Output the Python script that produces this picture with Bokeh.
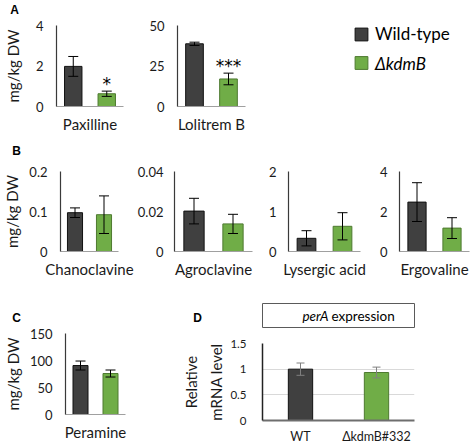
from bokeh.plotting import figure
from bokeh.models import (Range1d, FactorRange, FixedTicker, ColumnDataSource,
                          Whisker, TeeHead, Label, Legend, LegendItem)
from bokeh.layouts import row, column
from bokeh.embed import file_html
from bokeh.resources import INLINE

# ---------------- data ----------------
STRAINS = ["Wild-type", "ΔkdmB"]

PAX_MEAN = [1.98, 0.63]
PAX_ERR = [0.49, 0.13]
PAX_TICKS = [0, 2, 4]
PAX_TLAB = ["0", "2", "4"]

LOL_MEAN = [38.7, 17.0]
LOL_ERR = [1.0, 3.6]
LOL_TICKS = [0, 25, 50]
LOL_TLAB = ["0", "25", "50"]

CHA_MEAN = [0.097, 0.092]
CHA_ERR = [0.012, 0.047]
CHA_TICKS = [0, 0.1, 0.2]
CHA_TLAB = ["0", "0.1", "0.2"]

AGR_MEAN = [0.0202, 0.0138]
AGR_ERR = [0.0064, 0.0048]
AGR_TICKS = [0, 0.02, 0.04]
AGR_TLAB = ["0", "0.02", "0.04"]

LYS_MEAN = [0.33, 0.63]
LYS_ERR = [0.19, 0.34]
LYS_TICKS = [0, 1, 2]
LYS_TLAB = ["0", "1", "2"]

ERG_MEAN = [2.47, 1.17]
ERG_ERR = [0.97, 0.52]
ERG_TICKS = [0, 2, 4]
ERG_TLAB = ["0", "2", "4"]

PER_MEAN = [90.7, 75.9]
PER_ERR = [8.3, 6.5]
PER_TICKS = [0, 50, 100, 150]
PER_TLAB = ["0", "50", "100", "150"]

D_CATS = ["WT", "ΔkdmB#332"]
D_MEAN = [1.0, 0.935]
D_ERR = [0.12, 0.105]
D_TICKS = [0, 0.5, 1, 1.5]
D_TLAB = ["0", "0.5", "1", "1.5"]

# ---------------- style ----------------
FILL = ["#404040", "#70AD47"]
EDGE = ["#111111", "#4E7A30"]
FONT = "Lato"
TXT = "#1a1a1a"


def add_letter(p, letter, x, y):
    # label placed in the "above" side panel (screen px relative to the frame's top-left)
    p.add_layout(Label(x=x, y=y, x_units="screen", y_units="screen", text=letter,
                       text_font="Liberation Sans", text_font_style="bold",
                       text_font_size="12px", text_align="center", text_baseline="middle",
                       text_color="black"), "above")


def style_axes(p, tick_size="13px"):
    for ax in (p.xaxis + p.yaxis):
        ax.major_tick_out = 0
        ax.major_tick_in = 0
        ax.minor_tick_out = 0
        ax.minor_tick_in = 0
        ax.major_label_text_font = FONT
        ax.major_label_text_font_size = tick_size
        ax.major_label_text_color = TXT
        ax.axis_label_text_font = FONT
        ax.axis_label_text_font_size = "15px"
        ax.axis_label_text_font_style = "normal"
        ax.axis_label_text_color = TXT


def panel(name, means, errs, ticks, tlab, width, height, left, right, top, bottom,
          ylabel=None, ylab_standoff=5, tick_standoff=13, bar_w=0.52, sig=None):
    p = figure(width=width, height=height, x_range=Range1d(-0.5, 1.5),
               y_range=Range1d(ticks[0], ticks[-1]), output_backend="svg",
               toolbar_location=None, min_border_left=left, min_border_right=right,
               min_border_top=top, min_border_bottom=bottom)
    p.outline_line_color = None
    p.grid.visible = False
    xs = list(range(len(means)))
    src = ColumnDataSource(dict(x=xs, top=means,
                                lo=[m - e for m, e in zip(means, errs)],
                                hi=[m + e for m, e in zip(means, errs)],
                                fill=FILL, edge=EDGE))
    p.vbar(x="x", top="top", width=bar_w, fill_color="fill", line_color="edge",
           line_width=1, source=src)
    p.add_layout(Whisker(base="x", upper="hi", lower="lo", source=src, line_color="black",
                         line_width=1, level="overlay",
                         upper_head=TeeHead(size=10, line_color="black", line_width=1),
                         lower_head=TeeHead(size=10, line_color="black", line_width=1)))
    style_axes(p)
    p.xaxis.ticker = FixedTicker(ticks=[])
    p.xaxis.major_label_standoff = 0
    p.xaxis.axis_label = name
    p.xaxis.axis_label_standoff = 8
    p.xaxis.axis_line_color = "#A0A0A0"
    p.xaxis.axis_line_width = 1.2
    p.yaxis.ticker = FixedTicker(ticks=ticks)
    p.yaxis.major_label_overrides = dict(zip(ticks, tlab))
    p.yaxis.major_label_standoff = tick_standoff
    p.yaxis.axis_line_color = "#3a3a3a"
    p.yaxis.axis_line_width = 1.2
    if ylabel:
        p.yaxis.axis_label = ylabel
        p.yaxis.axis_label_standoff = ylab_standoff
    if sig:
        idx, txt = sig
        p.add_layout(Label(x=idx, y=means[idx] + errs[idx], text=txt,
                           text_font="DejaVu Sans", text_font_size="17px",
                           text_align="center", text_baseline="alphabetic",
                           text_color="black", y_offset=7))
    return p


# ---------------- row 1 (bar plots share top 25 / bottom 34) ----------------
p_pax = panel("Paxilline", PAX_MEAN, PAX_ERR, PAX_TICKS, PAX_TLAB, 136, 140, 52, 13, 25, 34,
              ylabel="mg/kg DW", ylab_standoff=11, sig=(1, "*"))
add_letter(p_pax, "A", -42, 16)
p_lol = panel("Lolitrem B", LOL_MEAN, LOL_ERR, LOL_TICKS, LOL_TLAB, 172, 140, 41, 63, 25, 34,
              sig=(1, "***"))

leg = figure(width=166, height=140, x_range=Range1d(0, 1), y_range=Range1d(0, 1),
             x_axis_location=None, y_axis_location=None, output_backend="svg",
             toolbar_location=None, min_border_left=45, min_border_right=10,
             min_border_top=23, min_border_bottom=38)
leg.outline_line_color = None
leg.grid.visible = False
xs_leg = list(range(len(STRAINS)))
r_leg = leg.vbar(x=xs_leg, top=[1] * len(STRAINS), width=0.5, fill_color=FILL,
                 line_color=EDGE, visible=False)
for i, (style, loc) in enumerate((("normal", "top_left"), ("italic", "center_left"))):
    lg = Legend(items=[LegendItem(label=STRAINS[i], renderers=[r_leg], index=i)],
                location=loc, glyph_width=16, glyph_height=16, label_standoff=6,
                padding=0, margin=0, spacing=0, label_height=16, border_line_color=None,
                background_fill_alpha=0, label_text_font=FONT,
                label_text_font_size="17px", label_text_font_style=style,
                label_text_color="black")
    leg.add_layout(lg)

# ---------------- row 2 (plots share top 31 / bottom 36) ----------------
p_cha = panel("Chanoclavine", CHA_MEAN, CHA_ERR, CHA_TICKS, CHA_TLAB, 134, 147, 56, 16, 31, 36,
              ylabel="mg/kg DW", ylab_standoff=5)
add_letter(p_cha, "B", -44, 21)
p_agr = panel("Agroclavine", AGR_MEAN, AGR_ERR, AGR_TICKS, AGR_TLAB, 128, 147, 37, 10, 31, 36,
              tick_standoff=11)
p_lys = panel("Lysergic acid", LYS_MEAN, LYS_ERR, LYS_TICKS, LYS_TLAB, 110, 147, 26, 12, 31, 36,
              tick_standoff=12)
p_erg = panel("Ergovaline", ERG_MEAN, ERG_ERR, ERG_TICKS, ERG_TLAB, 102, 147, 27, 5, 31, 36,
              tick_standoff=12)

# ---------------- row 3 ----------------
p_per = panel("Peramine", PER_MEAN, PER_ERR, PER_TICKS, PER_TLAB, 179, 159, 61, 54, 46, 32,
              ylabel="mg/kg DW", ylab_standoff=5, bar_w=0.5)
add_letter(p_per, "C", -49, 16)

box = figure(width=295, height=42, x_range=Range1d(0, 1), y_range=Range1d(0, 1),
             x_axis_location=None, y_axis_location=None, output_backend="svg",
             toolbar_location=None, min_border_left=83, min_border_right=60,
             min_border_top=16, min_border_bottom=2)
box.grid.visible = False
box.outline_line_color = "#5a5a5a"
box.outline_line_width = 1
box.add_layout(Label(x=66, y=12, x_units="screen", y_units="screen", text="perA",
                     text_font=FONT, text_font_style="italic", text_font_size="13.5px",
                     text_align="right", text_baseline="middle", text_color="black"))
box.add_layout(Label(x=69, y=12, x_units="screen", y_units="screen", text="expression",
                     text_font=FONT, text_font_size="13.5px", text_align="left",
                     text_baseline="middle", text_color="black"))
add_letter(box, "D", -65, -14)

pd_ = figure(width=295, height=117, x_range=FactorRange(*D_CATS), y_range=Range1d(0, 1.5),
             output_backend="svg", toolbar_location=None, min_border_left=83,
             min_border_right=60, min_border_top=14, min_border_bottom=25)
pd_.outline_line_color = None
dsrc = ColumnDataSource(dict(cat=D_CATS, top=D_MEAN,
                             lo=[m - e for m, e in zip(D_MEAN, D_ERR)],
                             hi=[m + e for m, e in zip(D_MEAN, D_ERR)],
                             fill=FILL, edge=EDGE))
pd_.vbar(x="cat", top="top", width=0.32, fill_color="fill", line_color="edge",
         line_width=1, source=dsrc)
pd_.add_layout(Whisker(base="cat", upper="hi", lower="lo", source=dsrc, line_color="#808080",
                       line_width=1, level="overlay",
                       upper_head=TeeHead(size=8, line_color="#808080", line_width=1),
                       lower_head=TeeHead(size=8, line_color="#808080", line_width=1)))
style_axes(pd_, tick_size="11.5px")
pd_.xgrid.visible = False
pd_.ygrid.ticker = FixedTicker(ticks=D_TICKS)
pd_.ygrid.grid_line_color = "#D9D9D9"
pd_.yaxis.ticker = FixedTicker(ticks=D_TICKS)
pd_.yaxis.major_label_overrides = dict(zip(D_TICKS, D_TLAB))
pd_.yaxis.major_label_standoff = 16
pd_.yaxis.axis_label = "Relative\nmRNA level"
pd_.yaxis.axis_label_standoff = 2
pd_.yaxis.axis_label_text_line_height = 1.4
pd_.yaxis.axis_line_color = "#222222"
pd_.yaxis.axis_line_width = 1.5
pd_.xaxis.axis_line_color = "#6e6e6e"
pd_.xaxis.axis_line_width = 2
pd_.xaxis.major_label_standoff = 8
pd_.xaxis.major_label_text_font_size = "12.5px"

layout = column(row(p_pax, p_lol, column(leg)),
                row(p_cha, p_agr, p_lys, p_erg),
                row(column(p_per), column(box, pd_)))

open("out.html", "w").write(file_html(layout, INLINE))
